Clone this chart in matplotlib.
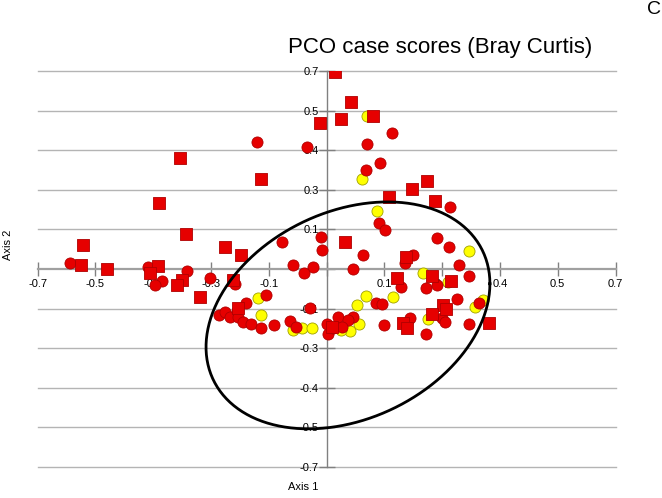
import numpy as np
import matplotlib
matplotlib.use("Agg")
import matplotlib.pyplot as plt

plt.rcParams['font.family'] = ['Liberation Sans', 'DejaVu Sans']

# PCO case scores
sq_x = [0.021, -0.016, -0.355, -0.159, -0.406, -0.340, -0.590, -0.246, -0.207, -0.594,
        -0.531, -0.408, -0.427, -0.350, -0.362, -0.226, -0.306, -0.214, 0.059, 0.035,
        0.113, 0.151, 0.207, 0.243, 0.263, 0.045, 0.192, 0.171, 0.255, 0.301,
        0.282, 0.289, 0.255, 0.185, 0.195, 0.393, 0.013]
sq_y = [0.696, 0.516, 0.392, 0.318, 0.233, 0.124, 0.085, 0.078, 0.049, 0.014,
        0.000, 0.011, -0.014, -0.039, -0.057, -0.039, -0.099, -0.138, 0.590, 0.530,
        0.541, 0.254, 0.283, 0.311, 0.240, 0.095, 0.042, -0.032, -0.025, -0.042,
        -0.127, -0.141, -0.159, -0.191, -0.208, -0.191, -0.205]

red_x = [-0.168, -0.047, 0.098, 0.159, 0.096, 0.130, 0.299, 0.127, 0.142, 0.268,
         0.297, 0.321, 0.345, 0.209, 0.190, 0.088, 0.064, -0.033, -0.054, -0.081,
         -0.013, -0.011, -0.108, -0.621, -0.432, -0.338, -0.398, -0.415, -0.282, -0.222,
         -0.146, -0.195, -0.040, -0.260, -0.246, -0.234, -0.217, -0.214, -0.202, -0.183,
         -0.159, -0.127, -0.088, -0.074, 0.001, 0.004, 0.016, 0.028, 0.064, 0.052,
         0.038, 0.120, 0.134, 0.139, 0.180, 0.241, 0.268, 0.316, 0.369, 0.202,
         0.280, 0.287, 0.345, 0.241]
red_y = [0.449, 0.431, 0.442, 0.481, 0.350, 0.375, 0.219, 0.163, 0.138, 0.110,
         0.078, 0.014, -0.025, 0.049, 0.021, 0.049, 0.000, 0.007, -0.014, 0.014,
         0.113, 0.067, 0.095, 0.021, 0.007, -0.007, -0.042, -0.057, -0.032, -0.053,
         -0.092, -0.120, -0.138, -0.163, -0.152, -0.170, -0.148, -0.170, -0.187, -0.194,
         -0.208, -0.198, -0.184, -0.205, -0.194, -0.230, -0.208, -0.170, -0.170, -0.180,
         -0.205, -0.120, -0.124, -0.198, -0.064, -0.067, -0.057, -0.106, -0.120, -0.173,
         -0.173, -0.187, -0.194, -0.230]

yel_x = [0.098, 0.086, 0.122, 0.345, 0.234, 0.294, -0.166, -0.159, -0.081, -0.059,
         -0.035, 0.074, 0.096, 0.161, 0.079, 0.057, 0.035, 0.246, 0.360, 0.379]
yel_y = [0.541, 0.318, 0.205, 0.064, -0.014, -0.046, -0.102, -0.163, -0.216, -0.208,
         -0.208, -0.127, -0.095, -0.099, -0.194, -0.219, -0.216, -0.177, -0.134, -0.110]

# ellipse: centre and covariance-like shape
ell_center = (0.052, -0.164)
ell_cov = [[0.1182, 0.0385], [0.0385, 0.1609]]

ticks = np.arange(-5, 6) * 0.14
x_labels = ['-0.7', '-0.5', '-0.4', '-0.3', '-0.1', '', '0.1', '0.3', '0.4', '0.5', '0.7']
y_labels = ['-0.7', '-0.5', '-0.4', '-0.3', '-0.1', '', '0.1', '0.3', '0.4', '0.5', '0.7']

fig = plt.figure(figsize=(6.62, 4.98), dpi=100)
ax = fig.add_axes([37.5 / 662, 31 / 498, 578 / 662, 396 / 498])
ax.set_xlim(-0.7, 0.7)
ax.set_ylim(-0.7, 0.7)

for t in ticks:
    if abs(t) > 1e-9:
        ax.axhline(t, color='#b4b4b4', lw=1, zorder=1, clip_on=False)

ax.spines['top'].set_visible(False)
ax.spines['right'].set_visible(False)
ax.spines['bottom'].set_position(('data', 0))
ax.spines['left'].set_position(('data', 0))
ax.spines['bottom'].set_color('#a0a0a0')
ax.spines['bottom'].set_linewidth(1.6)
ax.spines['left'].set_color('#808080')
ax.spines['left'].set_linewidth(1)

ax.set_xticks(ticks)
ax.set_xticklabels(x_labels)
ax.set_yticks(ticks)
ax.set_yticklabels(y_labels)
ax.tick_params(axis='x', direction='inout', length=10, width=1, color='#808080',
               labelsize=8, pad=2)
ax.tick_params(axis='y', direction='inout', length=11, width=1, color='#808080',
               labelsize=8, pad=0)

ax.scatter(yel_x, yel_y, s=64, marker='o', facecolor='#ffff00', edgecolor='#a0a000',
           linewidth=0.6, zorder=3)
ax.scatter(red_x, red_y, s=64, marker='o', facecolor='#e60000', edgecolor='#b00000',
           linewidth=0.6, zorder=4)
ax.scatter(sq_x, sq_y, s=64, marker='s', facecolor='#e60000', edgecolor='#b00000',
           linewidth=0.6, zorder=5)

L = np.linalg.cholesky(np.array(ell_cov))
t = np.linspace(0, 2 * np.pi, 400)
pts = L @ np.vstack([np.cos(t), np.sin(t)])
ax.plot(pts[0] + ell_center[0], pts[1] + ell_center[1], color='black', lw=2, zorder=6)

fig.text(440 / 662, 1 - 47 / 498, 'PCO case scores (Bray Curtis)', fontsize=16,
         ha='center', va='center')
fig.text(654 / 662, 1 - 10 / 498, 'C', fontsize=14, ha='center', va='center')
fig.text(8 / 662, 1 - 245 / 498, 'Axis 2', fontsize=8, rotation=90,
         ha='center', va='center')
fig.text(303 / 662, 1 - 487 / 498, 'Axis 1', fontsize=8, ha='center', va='center')

fig.savefig('out.png', dpi=100)
